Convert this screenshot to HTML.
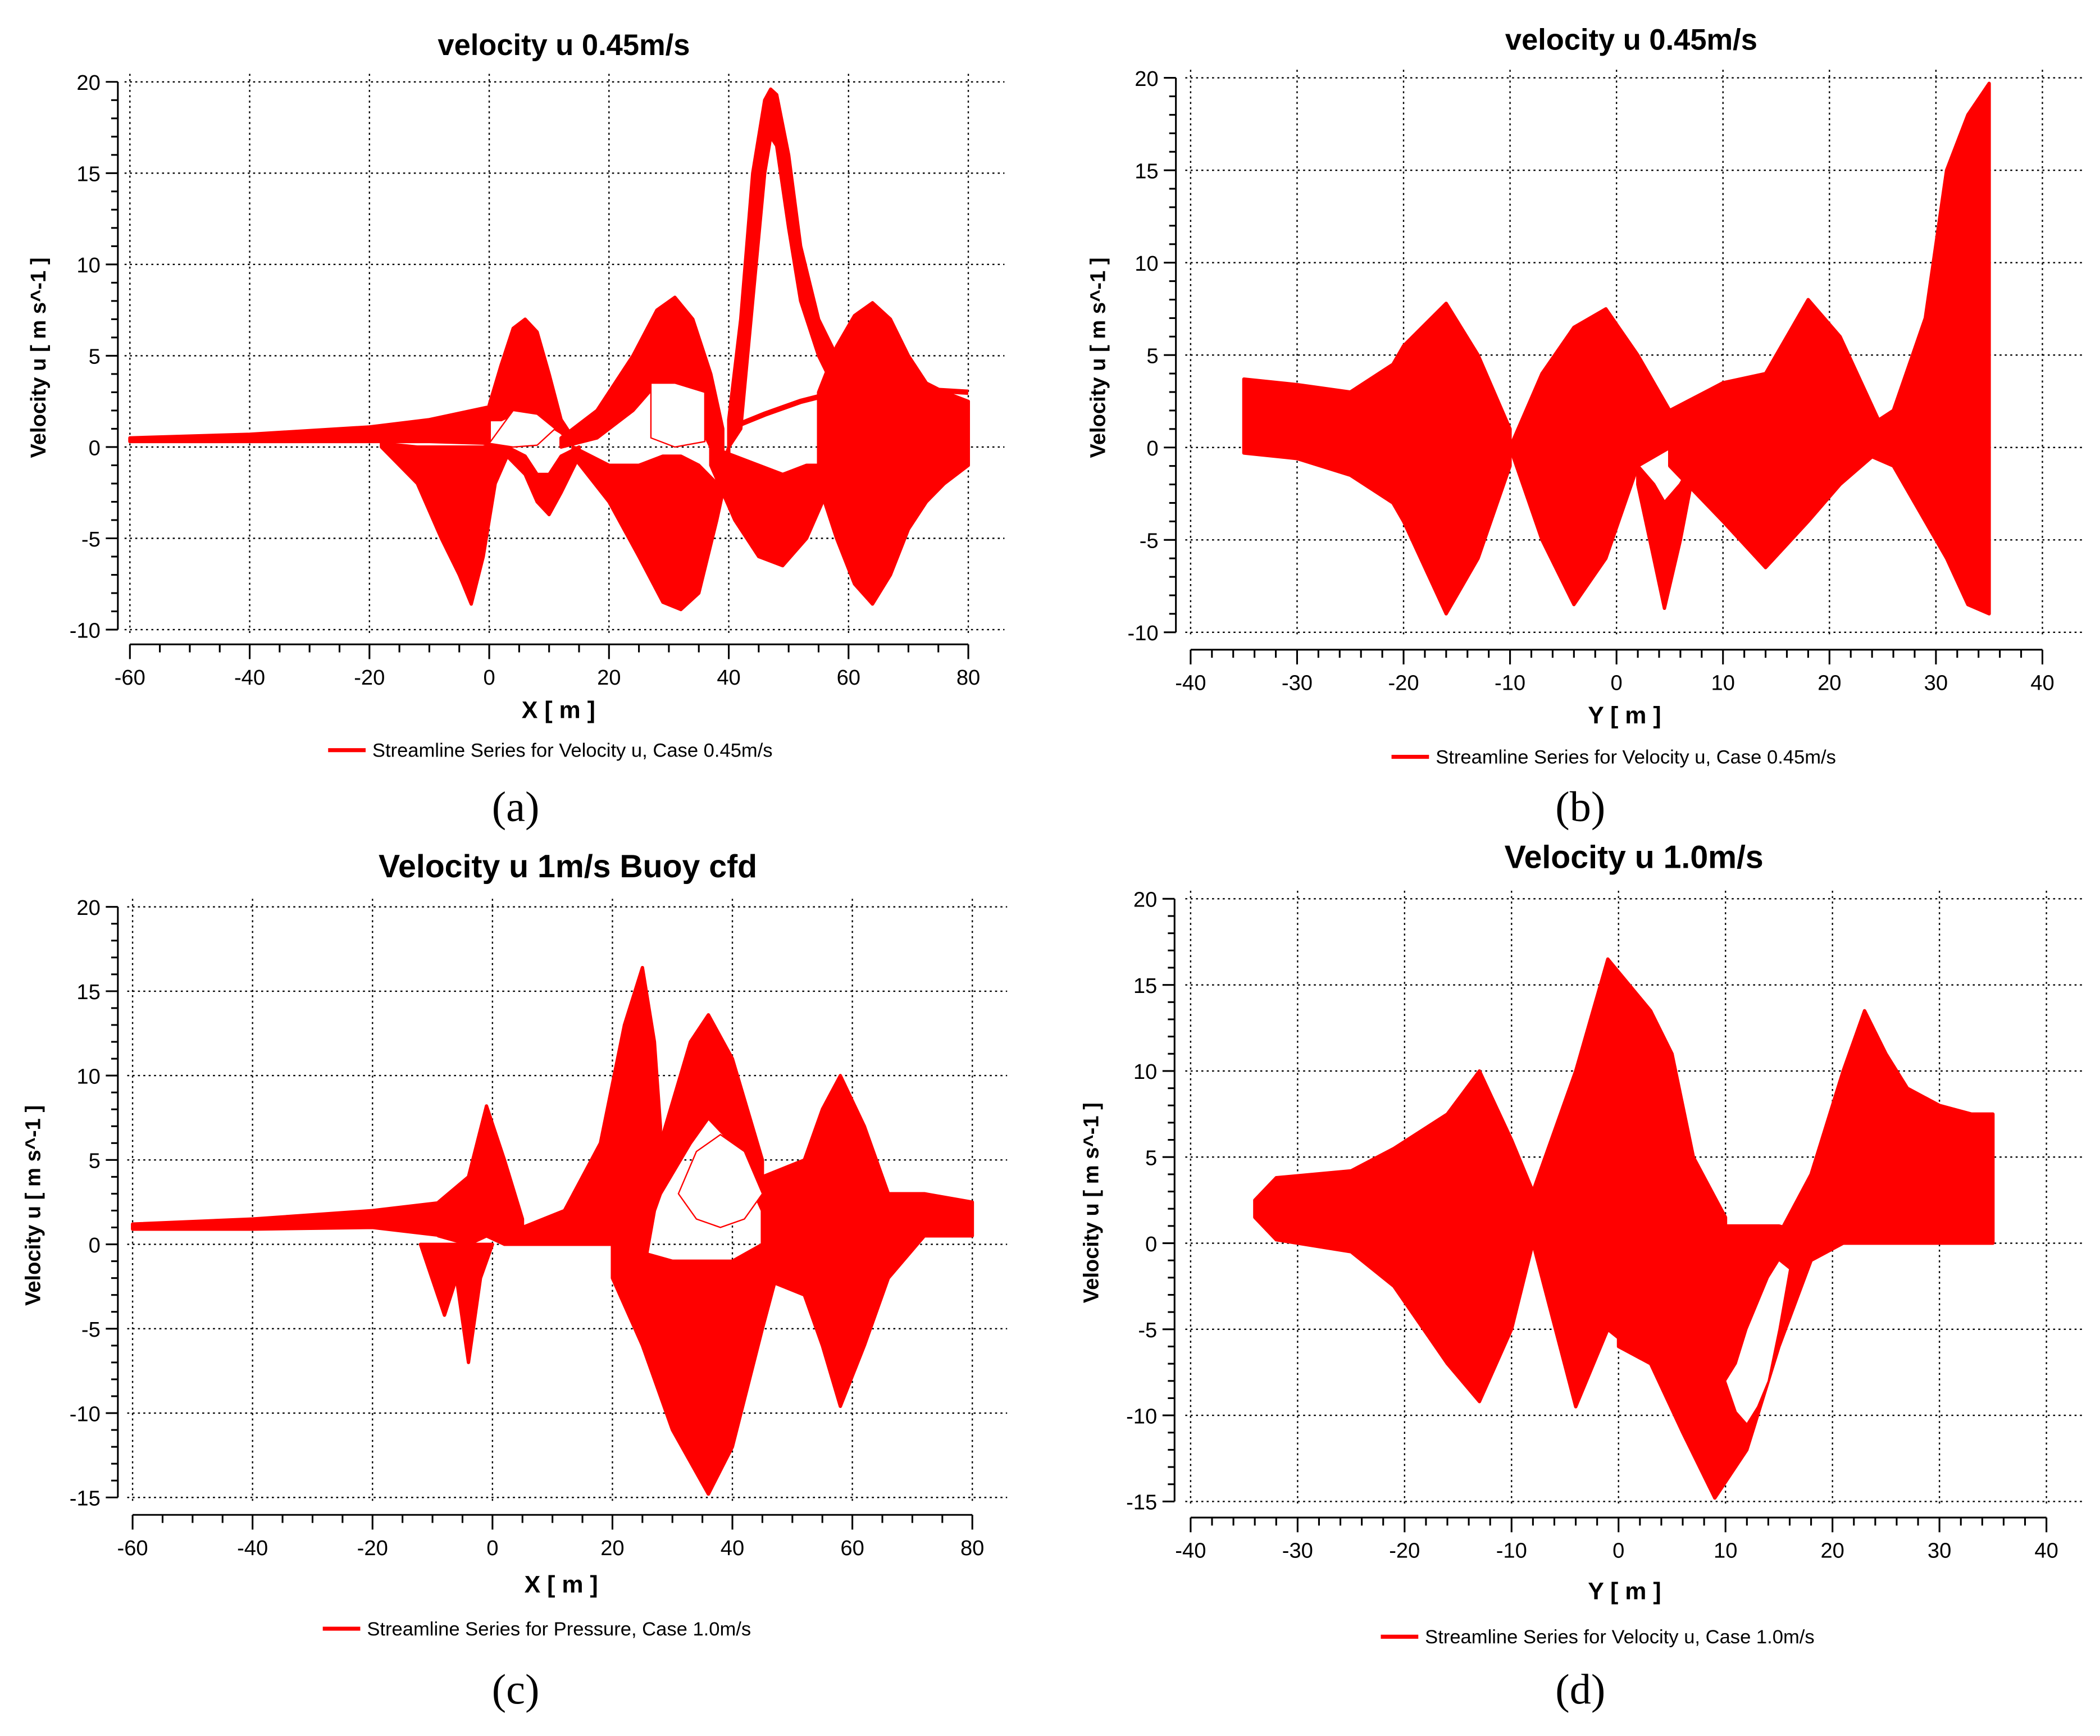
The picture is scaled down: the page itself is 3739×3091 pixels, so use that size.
<!DOCTYPE html>
<html><head><meta charset="utf-8"><style>
html,body{margin:0;padding:0;background:#fff;}
svg{display:block;}
text{font-family:"Liberation Sans",sans-serif;fill:#000;}
text.cap{font-family:"Liberation Serif",serif;}
</style></head><body>
<svg id="fig" width="3739" height="3091" viewBox="0 0 1568 1296" xmlns="http://www.w3.org/2000/svg"></svg>
<script>
// ---------- DATA ----------
// Panel a (X vs u, 0.45 m/s)
const aTailX=[-60,-40,-20,-10,0];const aTailHi=[0.5,0.7,1.1,1.5,2.2];const aTailLo=[0.3,0.3,0.3,0.3,0.2];
const aLobeX=[0,2,4,6,8,10,12,14];const aLobeHi=[2.3,4.5,6.5,7,6.3,4,1.5,0.5];const aLobeLo=[1.5,1.5,1.8,1.5,1.5,1.2,0.8,0.2];
const aDipX=[-18,-12,-8,-5,-3,-1,1,3];const aDipHi=[0.2,0,0,0,0,0,0.2,0.2];const aDipLo=[0,-2,-5,-7,-8.6,-6,-2,-0.5];
const aSmX=[3,6,8,10,12,15];const aSmHi=[0,-0.5,-1.5,-1.5,-0.5,0];const aSmLo=[-0.5,-1.5,-3,-3.7,-2.5,-0.5];
const aUpX=[12,18,24,28,31,34,37,39];const aUpHi=[0.5,2,5,7.5,8.2,7,4,1];const aUpLo=[0,0.5,2,3.5,3.5,2,0,-0.5];
const aNegX=[14,20,25,29,32,35,38,40];const aNegHi=[0,-1,-1,-0.5,-0.5,-1,-2,0];const aNegLo=[-0.5,-3,-6,-8.5,-8.9,-8,-4,-1];
const aPkX=[40,42,44,46,47,48,50,52,55,58,60];const aPkHi=[1.5,7,15,19,19.6,19.3,16,11,7,5,3];const aPkLo=[0,1,8,15,17,16.5,12,8,5,3,1.5];
const aDip2X=[37,41,45,49,53,57];const aDip2Hi=[0,-0.5,-1,-1.5,-1,-1];const aDip2Lo=[-1,-4,-6,-6.5,-5,-2];
const aBlobX=[55,58,61,64,67,70,73,76,80];const aBlobHi=[3,5.5,7.2,7.9,7,5,3.5,3,2.5];const aBlobLo=[-2,-5,-7.5,-8.6,-7,-4.5,-3,-2,-1];
const aLineX=[40,46,52,58,64,70,80];const aLineY=[1,1.8,2.5,3,3.5,3.2,3];
// Panel b (Y vs u, 0.45 m/s)
const bLeftX=[-35,-30,-25,-21,-20,-16,-13,-10];const bLeftHi=[3.7,3.4,3,4.5,5.5,7.8,5,1];const bLeftLo=[-0.3,-0.6,-1.5,-3,-4,-9,-6,-1];
const bMidX=[-10,-7,-4,-1,2,5];const bMidHi=[0,4,6.5,7.5,5,2];const bMidLo=[0,-5,-8.5,-6,-1,0];
const bDipX=[2,3.5,4.5,6,7];const bDipHi=[-1,-2,-3,-2,-1];const bDipLo=[-2,-6,-8.7,-5,-2];
const bRightX=[5,10,14,18,21,25];const bRightHi=[2,3.5,4,8,6,1];const bRightLo=[-1,-4,-6.5,-4,-2,0];
const bFarX=[22,26,29,31,33,35];const bFarHi=[0.5,2,7,15,18,19.7];const bFarLo=[0,-1,-4,-6,-8.5,-9];
// Panel c (X vs u, 1 m/s)
const cTailX=[-60,-40,-20,-8];const cTailHi=[1.2,1.5,2,2.5];const cTailLo=[0.9,0.9,1,0.5];
const cLobeX=[-9,-4,-1,2,5];const cLobeHi=[2.5,4,8.2,5,1.5];const cLobeLo=[0.5,0,0.5,0,0];
const cDipX=[-12,-8,-6,-4,-2,0];const cDipHi=[0,0,0,0,0,0];const cDipLo=[0,-4.2,-2,-7,-2,0];
const cSpX=[5,12,18,22,25,27,28];const cSpHi=[1,2,6,13,16.4,12,7];const cSpLo=[0,0,0,0,-2,2,3];
const cNegX=[20,25,30,36,40,45,48];const cNegHi=[0,-0.5,-1,-1,-1,0,0];const cNegLo=[-2,-6,-11,-14.8,-12,-5,-1];
const cPk2X=[28,33,36,40,45];const cPk2Hi=[6,12,13.6,11,5];const cPk2Lo=[3,6,7.5,6,2];
const cPk3X=[45,52,55,58,62,66,72,80];const cPk3Hi=[4,5,8,10,7,3,3,2.5];const cPk3Lo=[-2,-3,-6,-9.6,-6,-2,0.5,0.5];
// Panel d (Y vs u, 1 m/s)
const dLeftX=[-34,-32,-25,-21,-16,-13,-10,-8];const dLeftHi=[2.5,3.8,4.2,5.5,7.5,10,6,3];const dLeftLo=[1.5,0.2,-0.5,-2.5,-7,-9.2,-5,0];
const dMidX=[-8,-4,-1,1,3,5,7,10];const dMidHi=[3,10,16.5,15,13.5,11,5,1.5];const dMidLo=[0,-9.5,-5,-6,-6,-5,-3,0];
const dNegX=[0,3,6,9,12,15,18,20];const dNegHi=[0,0.5,1,1,1,1,0.5,0];const dNegLo=[-6,-7,-11,-14.8,-12,-6,-1,0];
const dRightX=[15,18,21,23,25,27,30,33,35];const dRightHi=[0.5,4,10,13.5,11,9,8,7.5,7.5];const dRightLo=[-1,-1,0,0,0,0,0,0,0];
const dHoleX=[10,11,12,13,14,15,16,15,14,12,11];const dHoleY=[-8,-9.8,-10.5,-9.5,-8,-5,-1.5,-1,-2,-5,-7];
const cHoleX=[31,34,38,42,45,42,38,34];const cHoleY=[3,1.5,1,1.5,3,5.5,6.5,5.5];
const aHoleX=[27,31,36,36,31,27];const aHoleY=[0.5,0,0.3,3,3.5,3.5];
const aHole2X=[0,4,8,11,8,4];const aHole2Y=[0.2,0,0.1,1,1.8,2];

const xTicksA=[-60,-40,-20,0,20,40,60,80];const xTicksB=[-40,-30,-20,-10,0,10,20,30,40];
const yTicksA=[-10,-5,0,5,10,15,20];const yTicksC=[-15,-10,-5,0,5,10,15,20];

// ---------- RENDER ----------
const NS="http://www.w3.org/2000/svg";const svg=document.getElementById('fig');
function mk(tag,attrs,parent){const e=document.createElementNS(NS,tag);for(const k in attrs)e.setAttribute(k,attrs[k]);(parent||svg).appendChild(e);return e;}
function txt(s,x,y,size,anchor,weight,parent){const t=mk('text',{x:x,y:y,'font-size':size,'text-anchor':anchor||'middle','font-weight':weight||'normal'},parent);t.textContent=s;return t;}

function panel(cfg){
  const g=mk('g',{});
  
  
  const sx=v=>cfg.x0+(v-cfg.xmin)/(cfg.xmax-cfg.xmin)*(cfg.x1-cfg.x0);
  const sy=v=>cfg.y0+(cfg.ymax-v)/(cfg.ymax-cfg.ymin)*(cfg.y1-cfg.y0);
  const grid=mk('g',{stroke:'#000','stroke-width':1,'stroke-dasharray':'1.5,2.5'},g);
  
  
  cfg.xt.forEach(v=>mk('line',{x1:sx(v),x2:sx(v),y1:cfg.y0-6,y2:cfg.y1+4},grid));
  cfg.yt.forEach(v=>mk('line',{x1:cfg.x0-4,x2:cfg.gridR,y1:sy(v),y2:sy(v)},grid));
  const ya=mk('g',{stroke:'#000','stroke-width':1.3},g);
  
  
  mk('line',{x1:cfg.ax,x2:cfg.ax,y1:sy(cfg.ymax),y2:sy(cfg.ymin)},ya);
  for(let v=cfg.ymin;v<=cfg.ymax;v++){const maj=v%5===0;mk('line',{x1:cfg.ax-(maj?9:5),x2:cfg.ax,y1:sy(v),y2:sy(v)},ya);}
  cfg.yt.forEach(v=>{const t=txt(String(v),cfg.ax-13,sy(v)+6,16,'end','normal',g);
    
    });
  const xa=mk('g',{stroke:'#000','stroke-width':1.3},g);
  
  
  mk('line',{x1:sx(cfg.xmin),x2:sx(cfg.xmax),y1:cfg.ay,y2:cfg.ay},xa);
  for(let v=cfg.xmin;v<=cfg.xmax+0.01;v+=cfg.minor){const maj=Math.abs(v%cfg.major)<0.01;mk('line',{x1:sx(v),x2:sx(v),y1:cfg.ay,y2:cfg.ay+(maj?11:6)},xa);}
  cfg.xt.forEach(v=>{const t=txt(String(v),sx(v),cfg.ay+30,16,'middle','normal',g);
    
    });
  const dg=mk('g',{},g);
  
  
  cfg.bands.forEach(b=>{
    let pts=b[0].map((x,i)=>sx(x)+','+sy(b[1][i]));
    let lo=b[0].map((x,i)=>sx(x)+','+sy(b[2][i])).reverse();
    const p=mk('polygon',{points:pts.concat(lo).join(' '),fill:'#ff0000',stroke:'#ff0000','stroke-width':2.5,'stroke-linejoin':'round'},dg);
    
    
  });
  (cfg.lines||[]).forEach(l=>{
    const p=mk('polyline',{points:l[0].map((x,i)=>sx(x)+','+sy(l[1][i])).join(' '),fill:'none',stroke:'#ff0000','stroke-width':4},dg);
    
    
  });
  (cfg.holes||[]).forEach(h=>{
    const p=mk('polygon',{points:h[0].map((x,i)=>sx(x)+','+sy(h[1][i])).join(' '),fill:'#fff',stroke:'#ff0000','stroke-width':1},dg);
    
    
  });
  const t=txt(cfg.title,cfg.tx,cfg.ty,cfg.tsize,'middle','bold',g);
  
  
  const xl=txt(cfg.xlabel,cfg.xlx,cfg.xly,18,'middle','bold',g);
  
  
  const yl=txt('Velocity u [ m s^-1 ]',0,0,16,'middle','bold',g);
  yl.setAttribute('transform','translate('+cfg.ylx+','+cfg.yly+') rotate(-90)');
  
  
  const lg=mk('g',{},g);
  
  
  mk('line',{x1:cfg.lgx,x2:cfg.lgx+28,y1:cfg.lgy,y2:cfg.lgy,stroke:'#ff0000','stroke-width':3},lg);
  txt(cfg.legend,cfg.lgx+33,cfg.lgy+5,14.5,'start','normal',lg);
  const cap=mk('text',{x:cfg.capx,y:cfg.capy,'font-size':32,'text-anchor':'middle','class':'cap'},g);
  cap.textContent=cfg.cap;
  
  
}

panel({name:'chart-a',xmin:-60,xmax:80,ymin:-10,ymax:20,x0:97,x1:723,y0:61,y1:470,ax:88,ay:481,gridR:750,major:20,minor:5,
  xt:xTicksA,yt:yTicksA,title:'velocity u 0.45m/s',tx:421,ty:41,tsize:22,xlabel:'X [ m ]',xlx:417,xly:536,ylx:34,yly:267,
  legend:'Streamline Series for Velocity u, Case 0.45m/s',lgx:245,lgy:560,cap:'(a)',capx:385,capy:613,
  bands:[[aTailX,aTailHi,aTailLo],[aLobeX,aLobeHi,aLobeLo],[aDipX,aDipHi,aDipLo],[aSmX,aSmHi,aSmLo],[aUpX,aUpHi,aUpLo],[aNegX,aNegHi,aNegLo],[aDip2X,aDip2Hi,aDip2Lo],[aPkX,aPkHi,aPkLo],[aBlobX,aBlobHi,aBlobLo]],
  lines:[[aLineX,aLineY]],holes:[[aHoleX,aHoleY],[aHole2X,aHole2Y]]});
panel({name:'chart-b',xmin:-40,xmax:40,ymin:-10,ymax:20,x0:889,x1:1525,y0:58,y1:472,ax:878,ay:485,gridR:1555,major:10,minor:2,
  xt:xTicksB,yt:yTicksA,title:'velocity u 0.45m/s',tx:1218,ty:37,tsize:22,xlabel:'Y [ m ]',xlx:1213,xly:540,ylx:825,yly:267,
  legend:'Streamline Series for Velocity u, Case 0.45m/s',lgx:1039,lgy:565,cap:'(b)',capx:1180,capy:613,
  bands:[[bLeftX,bLeftHi,bLeftLo],[bMidX,bMidHi,bMidLo],[bDipX,bDipHi,bDipLo],[bRightX,bRightHi,bRightLo],[bFarX,bFarHi,bFarLo]]});
panel({name:'chart-c',xmin:-60,xmax:80,ymin:-15,ymax:20,x0:99,x1:726,y0:677,y1:1118,ax:88,ay:1131,gridR:752,major:20,minor:5,
  xt:xTicksA,yt:yTicksC,title:'Velocity u 1m/s Buoy cfd',tx:424,ty:655,tsize:24,xlabel:'X [ m ]',xlx:419,xly:1189,ylx:30,yly:900,
  legend:'Streamline Series for Pressure, Case 1.0m/s',lgx:241,lgy:1216,cap:'(c)',capx:385,capy:1272,
  bands:[[cTailX,cTailHi,cTailLo],[cLobeX,cLobeHi,cLobeLo],[cDipX,cDipHi,cDipLo],[cSpX,cSpHi,cSpLo],[cNegX,cNegHi,cNegLo],[cPk2X,cPk2Hi,cPk2Lo],[cPk3X,cPk3Hi,cPk3Lo]],
  holes:[[cHoleX,cHoleY]]});
panel({name:'chart-d',xmin:-40,xmax:40,ymin:-15,ymax:20,x0:889,x1:1528,y0:671,y1:1121,ax:877,ay:1133,gridR:1557,major:10,minor:2,
  xt:xTicksB,yt:yTicksC,title:'Velocity u 1.0m/s',tx:1220,ty:648,tsize:24,xlabel:'Y [ m ]',xlx:1213,xly:1194,ylx:820,yly:898,
  legend:'Streamline Series for Velocity u, Case 1.0m/s',lgx:1031,lgy:1222,cap:'(d)',capx:1180,capy:1272,
  bands:[[dLeftX,dLeftHi,dLeftLo],[dMidX,dMidHi,dMidLo],[dNegX,dNegHi,dNegLo],[dRightX,dRightHi,dRightLo]],
  holes:[[dHoleX,dHoleY]]});
</script>
</body></html>
